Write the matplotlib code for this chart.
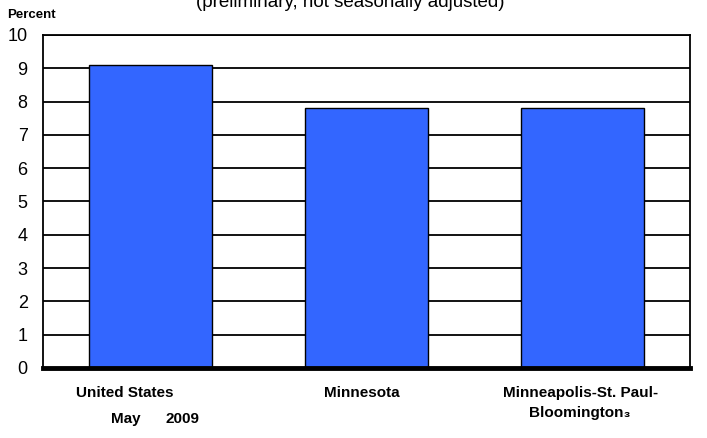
import matplotlib.pyplot as plt
from matplotlib.transforms import ScaledTranslation

plt.rcParams['font.family'] = ['Liberation Sans', 'DejaVu Sans']

areas = ['United States', 'Minnesota', 'Minneapolis-St. Paul-\nBloomington\u2083']
rates = [9.1, 7.8, 7.8]
yticks = list(range(0, 11))
# the source graphic shifts some labels off the bar centre (pixels)
label_shift = [-26, -5, -2]

fig = plt.figure(figsize=(7.07, 4.38), dpi=100)
ax = fig.add_axes([43 / 707, 70 / 438, 647 / 707, 333 / 438])

xs = range(len(areas))
ax.bar(xs, rates, width=0.57, color='#3366FF', edgecolor='black', linewidth=1.0, zorder=3)

ax.set_xlim(-0.5, len(areas) - 0.5)
ax.set_ylim(0, 10)
ax.set_yticks(yticks)
ax.set_yticklabels([str(t) for t in yticks], fontsize=13)
ax.tick_params(axis='y', length=0, pad=11)
ax.tick_params(axis='x', length=0, pad=13)
ax.set_xticks(list(xs))
ax.set_xticklabels(areas, fontsize=11, fontweight='bold', linespacing=1.5)
for lab, dx in zip(ax.get_xticklabels(), label_shift):
    lab.set_transform(lab.get_transform() + ScaledTranslation(dx / 100, 0, fig.dpi_scale_trans))
ax.yaxis.grid(True, color='black', linewidth=1.3, zorder=1)

for s in ['left', 'right', 'top']:
    ax.spines[s].set_linewidth(1.3)
ax.spines['bottom'].set_linewidth(3.5)
ax.spines['bottom'].set_capstyle('projecting')
ax.spines['bottom'].set_zorder(4)

# title is partly cut off at the top edge, as in the source image
fig.text(350 / 707, 1 - 7 / 438, '(preliminary, not seasonally adjusted)', ha='center',
         va='baseline', fontsize=13.5)
fig.text(7 / 707, 1 - 18 / 438, 'Percent', ha='left', va='baseline', fontsize=9.5,
         fontweight='bold')
fig.text(111 / 707, 1 - 423 / 438, 'May', ha='left', va='baseline', fontsize=11,
         fontweight='bold')
fig.text(166 / 707, 1 - 423 / 438, '2009', ha='left', va='baseline', fontsize=11,
         fontweight='bold')

fig.savefig('out.png', dpi=100)
